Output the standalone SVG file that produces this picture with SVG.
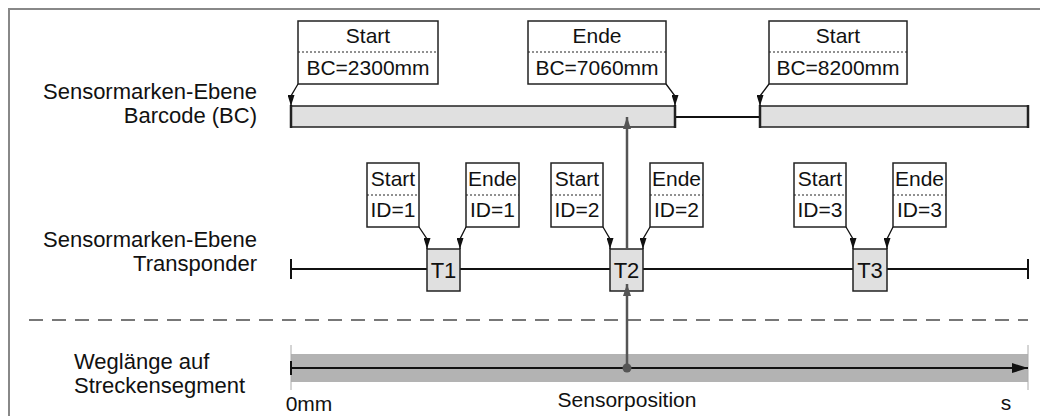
<svg xmlns="http://www.w3.org/2000/svg" width="1040" height="416" viewBox="0 0 1040 416">
<style>
text{font-family:"Liberation Sans",Arial,sans-serif;fill:#111}
.lbl{font-size:22px}
.bt{font-size:21px;text-anchor:middle}
.tt{font-size:22px;text-anchor:middle}
.box{fill:#fff;stroke:#222;stroke-width:1.5}
.tbox{fill:#e0e0e0;stroke:#222;stroke-width:1.5}
.div{stroke:#222;stroke-width:1;stroke-dasharray:2 2}
.ln{stroke:#111;stroke-width:2;fill:none}
.ar{stroke:#111;stroke-width:1.3;fill:none;marker-end:url(#ah)}
.ga{stroke:#555;stroke-width:2.5;fill:none;marker-end:url(#gh)}
</style>
<defs>
<marker id="ah" markerUnits="userSpaceOnUse" markerWidth="11" markerHeight="7" refX="11" refY="3.5" orient="auto" viewBox="0 0 11 7"><path d="M0,0 L11,3.5 L0,7 Z" fill="#111"/></marker>
<marker id="gh" markerUnits="userSpaceOnUse" markerWidth="12" markerHeight="8" refX="12" refY="4" orient="auto" viewBox="0 0 12 8"><path d="M0,0 L12,4 L0,8 Z" fill="#555"/></marker>
<marker id="bh" markerUnits="userSpaceOnUse" markerWidth="16" markerHeight="10" refX="16" refY="5" orient="auto" viewBox="0 0 16 10"><path d="M0,0 L16,5 L0,10 Z" fill="#111"/></marker>
</defs>
<rect width="1040" height="416" fill="#fff"/>
<path d="M9,416 V9 H1040" fill="none" stroke="#888" stroke-width="2"/>
<g id="labels">
<text class="lbl" x="257" y="99" text-anchor="end">Sensormarken-Ebene</text>
<text class="lbl" x="257" y="123" text-anchor="end">Barcode (BC)</text>
<text class="lbl" x="257" y="247" text-anchor="end">Sensormarken-Ebene</text>
<text class="lbl" x="257" y="271" text-anchor="end">Transponder</text>
<text class="lbl" x="74" y="369">Weglänge auf</text>
<text class="lbl" x="74" y="393">Streckensegment</text>
</g>
<line x1="29" y1="320" x2="1028" y2="320" stroke="#777" stroke-width="2" stroke-dasharray="14 9"/>
<g id="axis">
<rect x="291" y="354" width="737" height="28" fill="#b3b3b3"/>
<line x1="291" y1="345" x2="291" y2="390" stroke="#aaa" stroke-width="1"/>
<line x1="1028" y1="345" x2="1028" y2="390" stroke="#aaa" stroke-width="1"/>
<line x1="291" y1="368" x2="1028" y2="368" stroke="#111" stroke-width="2" marker-end="url(#bh)"/>
<line x1="291" y1="361" x2="291" y2="375" stroke="#111" stroke-width="2"/>
<text class="bt" x="309" y="411">0mm</text>
<text class="bt" x="627" y="407">Sensorposition</text>
<text class="bt" x="1006" y="410">s</text>
</g>
<g id="bc-bars">
<line x1="675" y1="117" x2="760" y2="117" class="ln"/>
<rect x="291" y="106" width="384" height="21" class="tbox"/>
<rect x="760" y="106" width="268" height="21" class="tbox"/>
<path d="M291,105 V128 M675,105 V128 M760,105 V128 M1028,105 V128" stroke="#222" stroke-width="2.5"/>
</g>
<g id="bc-start-2300">
<rect x="298" y="21" width="140" height="63" class="box"/>
<line x1="298" y1="52" x2="438" y2="52" class="div"/>
<text class="bt" x="368" y="43">Start</text>
<text class="bt" x="368" y="75">BC=2300mm</text>
</g>
<g id="bc-ende-7060">
<rect x="528" y="21" width="138" height="63" class="box"/>
<line x1="528" y1="52" x2="666" y2="52" class="div"/>
<text class="bt" x="597" y="43">Ende</text>
<text class="bt" x="597" y="75">BC=7060mm</text>
</g>
<g id="bc-start-8200">
<rect x="769" y="21" width="138" height="63" class="box"/>
<line x1="769" y1="52" x2="907" y2="52" class="div"/>
<text class="bt" x="838" y="43">Start</text>
<text class="bt" x="838" y="75">BC=8200mm</text>
</g>
<g id="tr-line">
<line x1="291" y1="269" x2="1028" y2="269" class="ln"/>
<line x1="291" y1="259" x2="291" y2="279" class="ln"/>
<line x1="1028" y1="259" x2="1028" y2="279" class="ln"/>
</g>
<g id="start-id1"><rect x="367" y="163" width="52" height="64" class="box"/><line x1="367" y1="195" x2="419" y2="195" class="div"/><text class="bt" x="393" y="186">Start</text><text class="bt" x="393" y="217">ID=1</text></g>
<g id="ende-id1"><rect x="466" y="163" width="53" height="64" class="box"/><line x1="466" y1="195" x2="519" y2="195" class="div"/><text class="bt" x="492.5" y="186">Ende</text><text class="bt" x="492.5" y="217">ID=1</text></g>
<g id="start-id2"><rect x="551" y="163" width="52" height="64" class="box"/><line x1="551" y1="195" x2="603" y2="195" class="div"/><text class="bt" x="577" y="186">Start</text><text class="bt" x="577" y="217">ID=2</text></g>
<g id="ende-id2"><rect x="650" y="163" width="53" height="64" class="box"/><line x1="650" y1="195" x2="703" y2="195" class="div"/><text class="bt" x="676.5" y="186">Ende</text><text class="bt" x="676.5" y="217">ID=2</text></g>
<g id="start-id3"><rect x="794" y="163" width="52" height="64" class="box"/><line x1="794" y1="195" x2="846" y2="195" class="div"/><text class="bt" x="820" y="186">Start</text><text class="bt" x="820" y="217">ID=3</text></g>
<g id="ende-id3"><rect x="893" y="163" width="53" height="64" class="box"/><line x1="893" y1="195" x2="946" y2="195" class="div"/><text class="bt" x="919.5" y="186">Ende</text><text class="bt" x="919.5" y="217">ID=3</text></g>
<g id="T1"><rect x="427" y="249" width="33" height="42" class="tbox"/><text class="tt" x="443.5" y="278">T1</text></g>
<g id="T2"><rect x="610" y="249" width="33" height="42" class="tbox"/><text class="tt" x="626.5" y="278">T2</text></g>
<g id="T3"><rect x="853" y="249" width="34" height="42" class="tbox"/><text class="tt" x="870" y="278">T3</text></g>
<g id="connectors">
<path class="ar" d="M298,84 L291,96 V106"/>
<path class="ar" d="M666,84 L675,96 V106"/>
<path class="ar" d="M769,84 L760,96 V106"/>
<path class="ar" d="M419,227 L427,239 V249"/>
<path class="ar" d="M466,227 L460,239 V249"/>
<path class="ar" d="M603,227 L610,239 V249"/>
<path class="ar" d="M650,227 L643,239 V249"/>
<path class="ar" d="M846,227 L853,239 V249"/>
<path class="ar" d="M893,227 L887,239 V249"/>
<line class="ga" x1="627" y1="249" x2="627" y2="117"/>
<line class="ga" x1="627" y1="368" x2="627" y2="284"/>
<circle cx="627" cy="368" r="4.5" fill="#555"/>
</g>
</svg>
